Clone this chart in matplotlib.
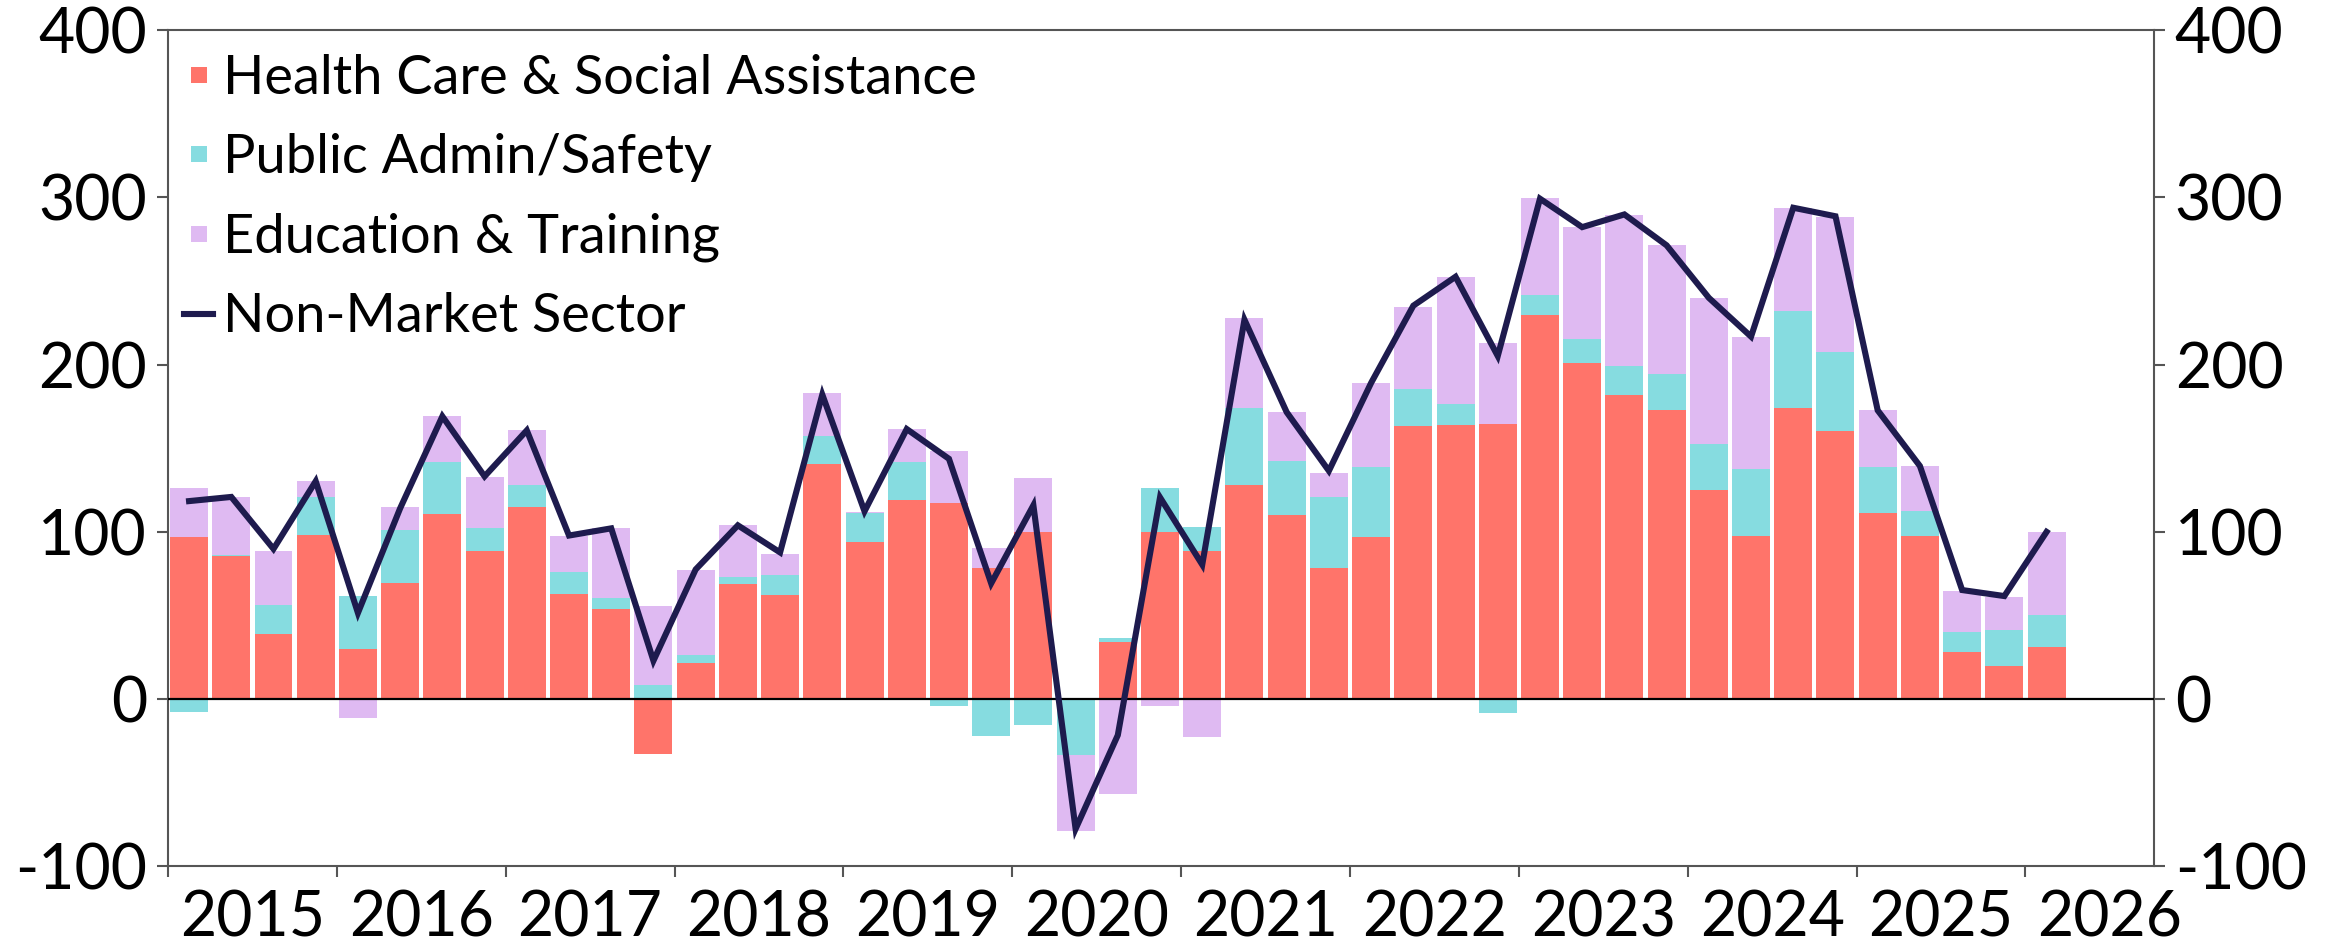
import numpy as np
import pandas as pd
import matplotlib
matplotlib.use("Agg")
import matplotlib.pyplot as plt
from matplotlib.lines import Line2D
from matplotlib.ticker import FixedLocator, NullFormatter, FixedFormatter

plt.rcParams['font.family'] = ['Lato', 'DejaVu Sans']
plt.rcParams['axes.unicode_minus'] = False

# quarterly data, 2015Q1 .. 2026Q1
quarters = pd.period_range('2015Q1', '2026Q1', freq='Q')

health = [96.6, 85.4, 39.1, 98.0, 29.7, 69.5, 110.7, 88.6, 114.7, 63.0, 53.5, -32.9,
          21.3, 68.7, 62.2, 140.7, 94.1, 118.7, 116.9, 78.5, 99.9, 0.5, 34.0, 99.9,
          88.6, 128.1, 110.0, 78.5, 97.0, 163.2, 163.9, 164.6, 229.7, 200.8, 181.6, 172.6,
          125.2, 97.7, 174.0, 160.3, 111.4, 97.7, 28.2, 19.9, 31.1]
public_admin = [-8.0, 0.7, 17.3, 22.8, 31.8, 31.4, 30.8, 13.8, 13.4, 13.0, 6.9, 8.3,
                4.7, 4.4, 12.0, 16.7, 17.3, 23.1, -4.3, -22.1, -15.6, -33.5, 2.2, 26.0,
                14.1, 45.9, 32.2, 42.3, 41.6, 22.0, 12.3, -8.3, 12.0, 14.5, 17.4, 22.0,
                27.1, 40.1, 57.9, 47.0, 27.5, 14.8, 11.6, 21.0, 18.8]
education = [29.3, 34.7, 32.2, 9.8, -11.2, 14.1, 27.5, 30.4, 32.9, 21.7, 41.6, 47.1,
             51.1, 30.7, 12.6, 25.3, 0.5, 19.6, 31.1, 11.9, 32.2, -45.7, -57.2, -4.3,
             -22.8, 53.9, 29.3, 14.5, 50.6, 49.2, 76.3, 48.1, 57.9, 66.9, 90.4, 76.7,
             87.6, 78.6, 61.9, 80.7, 33.7, 26.8, 24.6, 20.2, 50.0]
non_market = [118.3, 120.8, 89.7, 130.2, 51.4, 114.0, 169.0, 133.1, 160.6, 97.7, 102.0, 22.8,
              77.4, 103.8, 87.6, 182.0, 112.2, 161.4, 143.6, 69.1, 115.8, -77.8, -21.7, 120.5,
              80.3, 226.8, 171.5, 136.4, 189.0, 235.2, 252.5, 205.1, 299.2, 282.2, 289.8, 271.3,
              239.9, 216.7, 293.8, 288.7, 172.6, 139.3, 65.1, 61.5, 99.9]

years = list(range(2015, 2027))
yticks = [-100, 0, 100, 200, 300, 400]

series = [
    ("Health Care & Social Assistance", health, "#FF746A"),
    ("Public Admin/Safety", public_admin, "#86DCE0"),
    ("Education & Training", education, "#DFBAF2"),
]
line_color = "#1E1B4E"

# bars centred in the middle of each quarter
x = np.array([q.year + (q.quarter - 0.5) / 4 for q in quarters])

fig = plt.figure(figsize=(23.36, 9.44), dpi=100)
ax = fig.add_axes([0.0719, 0.0826, 0.8501, 0.8854])

pos_base = np.zeros(len(x))
neg_base = np.zeros(len(x))
for name, vals, col in series:
    v = np.array(vals)
    base = np.where(v >= 0, pos_base, neg_base)
    ax.bar(x, v, width=0.225, bottom=base, color=col, linewidth=0, zorder=2)
    pos_base = pos_base + np.clip(v, 0, None)
    neg_base = neg_base + np.clip(v, None, 0)

ax.plot(x, non_market, color=line_color, lw=4.4, zorder=4, solid_joinstyle='miter')
ax.axhline(0, color='black', lw=1.6, zorder=3)

ax.set_xlim(2015.0, 2026.76)
ax.set_ylim(-100, 400)

# year boundaries as ticks, labels centred in the year
ax.xaxis.set_major_locator(FixedLocator(years))
ax.xaxis.set_major_formatter(NullFormatter())
ax.xaxis.set_minor_locator(FixedLocator([y + 0.5 for y in years]))
ax.xaxis.set_minor_formatter(FixedFormatter([str(y) for y in years]))
ax.tick_params(axis='x', which='major', length=8, width=1.5, color='#555555', direction='out')
ax.tick_params(axis='x', which='minor', length=0, labelsize=45, pad=17)

ax.set_yticks(yticks)
ax.tick_params(axis='y', length=8, width=1.5, color='#555555', labelsize=45,
               left=True, right=True, labelleft=True, labelright=True, pad=7)

for sp in ax.spines.values():
    sp.set_color('#555555')
    sp.set_linewidth(1.5)

handles = [Line2D([], [], marker='s', linestyle='none', markersize=11.5,
                  markerfacecolor=col, markeredgewidth=0, label=name)
           for name, vals, col in series]
handles.append(Line2D([], [], color=line_color, lw=4.4, label="Non-Market Sector"))
ax.legend(handles=handles, loc='upper left', frameon=False, fontsize=39,
          handlelength=0.54, handletextpad=0.17, labelspacing=0.56,
          borderpad=0.1, borderaxespad=0.2, bbox_to_anchor=(0.0, 0.991))

fig.savefig("out.png", dpi=100)
